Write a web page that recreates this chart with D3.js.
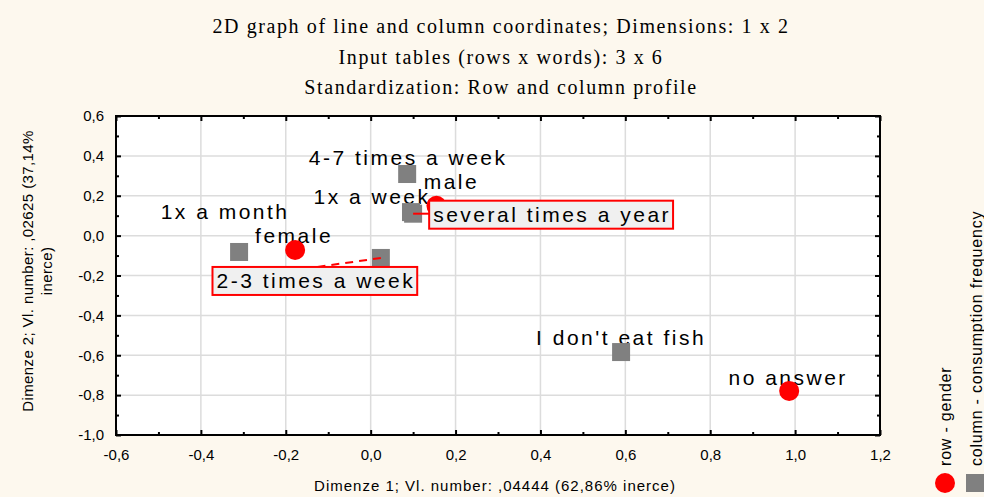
<html>
<head>
<meta charset="utf-8">
<script src="https://d3js.org/d3.v7.min.js"></script>
<style>
body {margin: 0; background: #fdf8ee;}
svg {display: block;}
.title {font-family: "Liberation Serif", "Times New Roman", serif; font-size: 20px; letter-spacing: 1.6px; fill: #000;}
.tick text {font-family: "Liberation Sans", Arial, sans-serif; font-size: 15px;}
.lbl {font-family: "Liberation Sans", Arial, sans-serif; font-size: 21px; letter-spacing: 2.5px; fill: #000;}
.axtitle {font-family: "Liberation Sans", Arial, sans-serif; font-size: 15px; fill: #000;}
</style>
</head>
<body>
<svg id="chart"></svg>
<script>
// row points (gender)
var rowNames = ["female", "male", "no answer"];
var rowX = [-0.178, 0.155, 0.986];
var rowY = [-0.072, 0.15, -0.779];

// column points (consumption frequency)
var colNames = ["1x a month", "2-3 times a week", "4-7 times a week", "1x a week", "several times a year", "I don't eat fish"];
var colX = [-0.310, 0.024, 0.086, 0.095, 0.100, 0.590];
var colY = [-0.082, -0.112, 0.309, 0.118, 0.110, -0.584];

var xTicks = [-0.6, -0.4, -0.2, 0.0, 0.2, 0.4, 0.6, 0.8, 1.0, 1.2];
var yTicks = [-1.0, -0.8, -0.6, -0.4, -0.2, 0.0, 0.2, 0.4, 0.6];

var titles = ["2D graph of line and column coordinates; Dimensions: 1 x 2",
              "Input tables (rows x words): 3 x 6",
              "Standardization: Row and column profile"];
var xTitle = "Dimenze 1; Vl. number: ,04444 (62,86% inerce)";
var yTitle = ["Dimenze 2; Vl. number: ,02625 (37,14%", "inerce)"];
var legendText = ["row - gender", "column - consumption frequency"];

// label placement relative to the point (pixels)
var offs = {
    "female": [-1, -7], "male": [15, -17], "no answer": [-1, -6],
    "1x a month": [-14, -33], "2-3 times a week": [-65, 30], "4-7 times a week": [1, -9],
    "1x a week": [-39, -8], "several times a year": [139, 8], "I don't eat fish": [0, -7]
};
var boxed = ["2-3 times a week", "several times a year"];

var W = 984, H = 497;
var L = 116, R = 880, T = 116, B = 435;
var svg = d3.select("#chart").attr("width", W).attr("height", H);

var x = d3.scaleLinear().domain([-0.6, 1.2]).range([L, R]);
var y = d3.scaleLinear().domain([-1.0, 0.6]).range([B, T]);

// titles
svg.selectAll(".title").data(titles).enter().append("text")
    .attr("class", "title")
    .attr("x", 501).attr("y", function(d, i) {return 33 + i * 30.5;})
    .attr("text-anchor", "middle")
    .text(function(d) {return d;});

// plot area
svg.append("rect").attr("x", L).attr("y", T).attr("width", R - L).attr("height", B - T).style("fill", "#fff");

// grid
svg.append("g").selectAll("line").data(xTicks.slice(1, -1)).enter().append("line")
    .attr("x1", function(d) {return x(d);}).attr("x2", function(d) {return x(d);})
    .attr("y1", T).attr("y2", B).style("stroke", "#dcdcdc").style("stroke-width", 1.5);
svg.append("g").selectAll("line").data(yTicks.slice(1, -1)).enter().append("line")
    .attr("y1", function(d) {return y(d);}).attr("y2", function(d) {return y(d);})
    .attr("x1", L).attr("x2", R).style("stroke", "#dcdcdc").style("stroke-width", 1.5);

// axes with inward ticks
var fmt = function(d) {return d3.format(".1f")(d).replace(".", ",").replace("−", "-");};
var minorX = d3.range(-0.5, 1.2, 0.2);
var minorY = d3.range(-0.9, 0.6, 0.2);

function axisG(axis, tx, ty) {
    var g = svg.append("g").attr("transform", "translate(" + tx + "," + ty + ")").call(axis);
    g.select(".domain").remove();
    g.selectAll(".tick line").style("stroke", "#000").style("stroke-width", 2);
    return g;
}
axisG(d3.axisBottom(x).tickValues(xTicks).tickSize(-5).tickPadding(14).tickFormat(fmt), 0, B);
axisG(d3.axisBottom(x).tickValues(minorX).tickSize(-3).tickFormat(""), 0, B);
axisG(d3.axisTop(x).tickValues(xTicks).tickSize(-5).tickFormat(""), 0, T);
axisG(d3.axisTop(x).tickValues(minorX).tickSize(-3).tickFormat(""), 0, T);
axisG(d3.axisLeft(y).tickValues(yTicks).tickSize(-5).tickPadding(12).tickFormat(fmt), L, 0);
axisG(d3.axisLeft(y).tickValues(minorY).tickSize(-3).tickFormat(""), L, 0);
axisG(d3.axisRight(y).tickValues(yTicks).tickSize(-5).tickFormat(""), R, 0);
axisG(d3.axisRight(y).tickValues(minorY).tickSize(-3).tickFormat(""), R, 0);

svg.append("rect").attr("x", L).attr("y", T).attr("width", R - L).attr("height", B - T)
    .style("fill", "none").style("stroke", "#000").style("stroke-width", 2);

// axis titles
svg.append("text").attr("class", "axtitle").attr("x", 495).attr("y", 491)
    .attr("text-anchor", "middle").style("letter-spacing", "1px").text(xTitle);
svg.append("g").attr("transform", "translate(0,271) rotate(-90)")
    .selectAll("text").data(yTitle).enter().append("text")
    .attr("class", "axtitle").attr("x", 0).attr("y", function(d, i) {return 33 + i * 19;})
    .attr("text-anchor", "middle").style("letter-spacing", "0.4px").text(function(d) {return d;});

// point records
var rows = rowNames.map(function(n, i) {return {name: n, x: rowX[i], y: rowY[i], kind: "row"};});
var cols = colNames.map(function(n, i) {return {name: n, x: colX[i], y: colY[i], kind: "col"};});
var all = rows.concat(cols);

// labels
var plain = all.filter(function(d) {return boxed.indexOf(d.name) < 0;});
svg.append("g").selectAll("text").data(plain).enter().append("text")
    .attr("class", "lbl")
    .attr("x", function(d) {return x(d.x) + offs[d.name][0];})
    .attr("y", function(d) {return y(d.y) + offs[d.name][1];})
    .attr("text-anchor", "middle")
    .text(function(d) {return d.name;});

// column markers
svg.append("g").selectAll("rect").data(cols).enter().append("rect")
    .attr("x", function(d) {return x(d.x) - 9;})
    .attr("y", function(d) {return y(d.y) - 9;})
    .attr("width", 18).attr("height", 18)
    .style("fill", "#808080");

// row markers
svg.append("g").selectAll("circle").data(rows).enter().append("circle")
    .attr("cx", function(d) {return x(d.x);})
    .attr("cy", function(d) {return y(d.y);})
    .attr("r", 10)
    .style("fill", "#ff0000");

// boxed labels with leader lines
var bx = all.filter(function(d) {return boxed.indexOf(d.name) >= 0;});
bx.forEach(function(d) {
    var px = x(d.x), py = y(d.y);
    var tx = px + offs[d.name][0], ty = py + offs[d.name][1];
    var g = svg.append("g");
    var ln = g.append("line");
    var box = g.append("rect");
    var t = g.append("text").attr("class", "lbl").attr("x", tx).attr("y", ty)
        .attr("text-anchor", "middle").text(d.name);
    var bb = t.node().getBBox();
    var r = {x: bb.x - 4, y: bb.y - 2, w: bb.width + 6, h: bb.height + 5};
    var lx = Math.max(r.x, Math.min(px, r.x + r.w));
    var ly = Math.max(r.y, Math.min(py, r.y + r.h));
    if (d.name === "2-3 times a week") {lx = r.x + 105; ly = r.y;}
    ln.attr("x1", px).attr("y1", py).attr("x2", lx).attr("y2", ly)
        .style("stroke", "#ff0000").style("stroke-width", 2)
        .style("stroke-dasharray", d.name === "2-3 times a week" ? "8,6" : null);
    box.attr("x", r.x).attr("y", r.y).attr("width", r.w).attr("height", r.h)
        .style("fill", "#f0f0f0").style("stroke", "#ff0000").style("stroke-width", 2);
});

// legend
var lg = svg.append("g");
lg.append("circle").attr("cx", 945).attr("cy", 483).attr("r", 10).style("fill", "#ff0000");
lg.append("rect").attr("x", 966).attr("y", 474).attr("width", 20).attr("height", 18).style("fill", "#808080");
lg.selectAll("text").data(legendText).enter().append("text")
    .attr("class", "axtitle")
    .attr("transform", function(d, i) {return "translate(" + (951 + i * 31) + ",466) rotate(-90)";})
    .style("font-size", "16px").style("letter-spacing", "0.8px")
    .text(function(d) {return d;});
</script>
</body>
</html>
